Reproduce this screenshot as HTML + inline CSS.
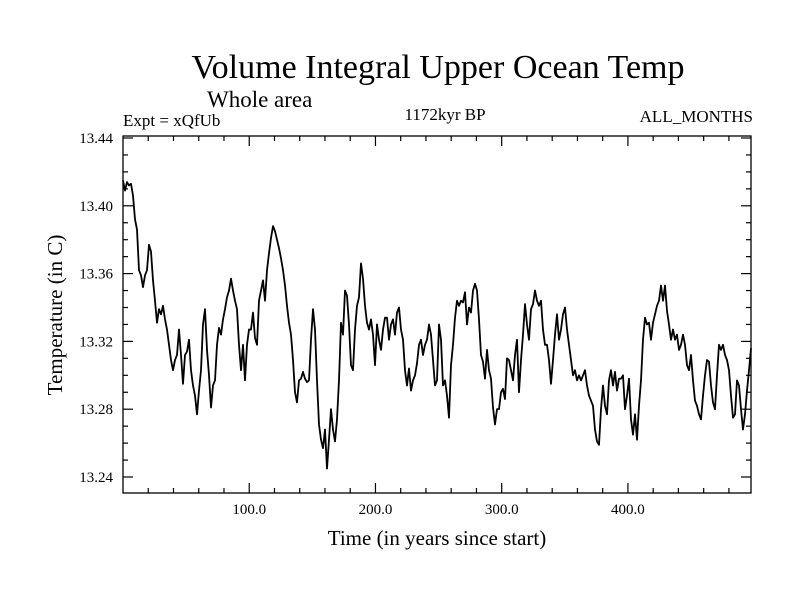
<!DOCTYPE html>
<html><head><meta charset="utf-8">
<style>
html,body{margin:0;padding:0;background:#fff;}
svg{display:block;font-family:"Liberation Serif",serif;}
</style></head>
<body>
<svg id="chart" width="800" height="600" viewBox="0 0 800 600" xmlns="http://www.w3.org/2000/svg">
<rect width="800" height="600" fill="#fff"/>
<text x="438" y="78" font-size="34" text-anchor="middle">Volume Integral Upper Ocean Temp</text>
<text x="207" y="107" font-size="23">Whole area</text>
<text x="123" y="126" font-size="17">Expt = xQfUb</text>
<text x="445" y="120" font-size="17" text-anchor="middle">1172kyr BP</text>
<text x="753" y="122" font-size="17" text-anchor="end">ALL_MONTHS</text>
<text x="437" y="545" font-size="21" text-anchor="middle">Time (in years since start)</text>
<text x="62" y="315" font-size="21" text-anchor="middle" transform="rotate(-90 62 315)">Temperature (in C)</text>
<g id="axes"></g>
<path id="series" fill="none" stroke="#000" stroke-width="1.8" stroke-linejoin="round"/>
<rect x="123" y="136" width="628" height="357" fill="none" stroke="#000" stroke-width="1.3"/>
</svg>
<script>
const xTicks=[100,200,300,400];
const xTickLabels=["100.0","200.0","300.0","400.0"];
const yTicks=[13.24,13.28,13.32,13.36,13.40,13.44];
const yTickLabels=["13.24","13.28","13.32","13.36","13.40","13.44"];
const xStart=0, xEnd=497.5;
const tempValues=[13.415,13.409,13.414,13.412,13.413,13.406,13.392,13.386,13.362,13.359,13.352,13.359,13.362,13.377,13.373,13.356,13.344,13.331,13.339,13.336,13.341,13.333,13.327,13.318,13.309,13.303,13.309,13.312,13.327,13.312,13.295,13.312,13.314,13.321,13.303,13.294,13.288,13.277,13.291,13.303,13.330,13.339,13.315,13.300,13.281,13.294,13.297,13.318,13.328,13.324,13.333,13.339,13.346,13.350,13.357,13.350,13.344,13.339,13.318,13.303,13.318,13.297,13.318,13.327,13.327,13.337,13.322,13.318,13.344,13.350,13.356,13.344,13.362,13.372,13.381,13.388,13.385,13.380,13.375,13.369,13.362,13.353,13.341,
13.331,13.324,13.309,13.290,13.284,13.297,13.298,13.302,13.298,13.296,13.297,13.321,13.339,13.327,13.297,13.271,13.262,13.257,13.268,13.245,13.262,13.280,13.268,13.261,13.274,13.297,13.331,13.324,13.350,13.347,13.330,13.306,13.303,13.327,13.341,13.346,13.366,13.357,13.341,13.331,13.327,13.333,13.324,13.306,13.330,13.321,13.315,13.327,13.334,13.334,13.321,13.330,13.333,13.324,13.337,13.340,13.327,13.321,13.303,13.294,13.304,13.291,13.297,13.300,13.307,13.318,13.321,13.312,13.318,13.321,13.330,13.324,13.309,13.294,13.297,
13.330,13.321,13.294,13.297,13.288,13.275,13.306,13.318,13.334,13.344,13.341,13.344,13.343,13.349,13.330,13.340,13.337,13.350,13.354,13.350,13.333,13.312,13.308,13.298,13.315,13.303,13.298,13.281,13.271,13.280,13.280,13.290,13.292,13.286,13.310,13.309,13.303,13.297,13.312,13.321,13.290,13.309,13.324,13.342,13.330,13.321,13.339,13.342,13.350,13.344,13.341,13.344,13.327,13.318,13.318,13.309,13.295,13.309,13.324,13.336,13.321,13.327,13.336,13.340,13.327,13.318,13.309,13.300,13.303,13.297,13.300,13.297,13.300,13.303,13.294,13.288,13.285,13.282,13.268,13.261,
13.259,13.280,13.294,13.282,13.277,13.297,13.303,13.294,13.302,13.291,13.298,13.298,13.300,13.280,13.288,13.298,13.274,13.265,13.277,13.262,13.282,13.297,13.321,13.334,13.330,13.331,13.321,13.331,13.336,13.341,13.344,13.353,13.344,13.353,13.338,13.330,13.321,13.327,13.321,13.324,13.315,13.318,13.324,13.318,13.306,13.303,13.312,13.297,13.285,13.282,13.277,13.274,13.288,13.300,13.309,13.308,13.294,13.284,13.280,13.300,13.318,13.315,13.318,13.312,13.309,13.303,13.288,13.275,13.277,13.297,13.294,13.280,13.268,13.277,13.291,13.303,13.316];
const years=tempValues.map((v,i)=>xStart+i*(xEnd-xStart)/(tempValues.length-1));

const L=123,R=751,T=136,B=493;
const yMin=13.24-16/67.8*0.04, yMax=13.44+2/67.8*0.04;
function xs(v){return L+(v-xStart)/(xEnd-xStart)*(R-L);}
function ys(v){return B-(v-yMin)/(yMax-yMin)*(B-T);}
const NS="http://www.w3.org/2000/svg";
const axes=document.getElementById('axes');
function line(x1,y1,x2,y2,name){
  const l=document.createElementNS(NS,'line');
  l.setAttribute('x1',x1);l.setAttribute('y1',y1);l.setAttribute('x2',x2);l.setAttribute('y2',y2);
  l.setAttribute('stroke','#000');l.setAttribute('stroke-width','1.2');
  
  
  axes.appendChild(l);
}
function text(x,y,s,anchor,name){
  const t=document.createElementNS(NS,'text');
  t.setAttribute('x',x);t.setAttribute('y',y);t.setAttribute('font-size','15');t.setAttribute('text-anchor',anchor);
  t.textContent=s;
  
  
  axes.appendChild(t);
}
for(let k=0;k<=20;k++){
  const v=13.24+k*0.01; if(v>yMax+1e-9) break;
  const y=ys(v); const major=(k%4===0); const len=major?10:5;
  line(L,y,L+len,y,'y-tick');
  line(R,y,R-len,y,'y-tick-right');
}
yTicks.forEach((v,i)=>text(L-10,ys(v)+5,yTickLabels[i],'end','y-tick-label'));
for(let v=20;v<xEnd;v+=20){
  const x=xs(v); const major=(v%100===0); const len=major?10:5;
  line(x,B,x,B-len,'x-tick');
  line(x,T,x,T+len,'x-tick-top');
}
xTicks.forEach((v,i)=>text(xs(v),514,xTickLabels[i],'middle','x-tick-label'));
let d='';
tempValues.forEach((v,i)=>{d+=(i?'L':'M')+xs(years[i]).toFixed(2)+','+ys(v).toFixed(2);});
document.getElementById('series').setAttribute('d',d);
</script>
</body></html>
